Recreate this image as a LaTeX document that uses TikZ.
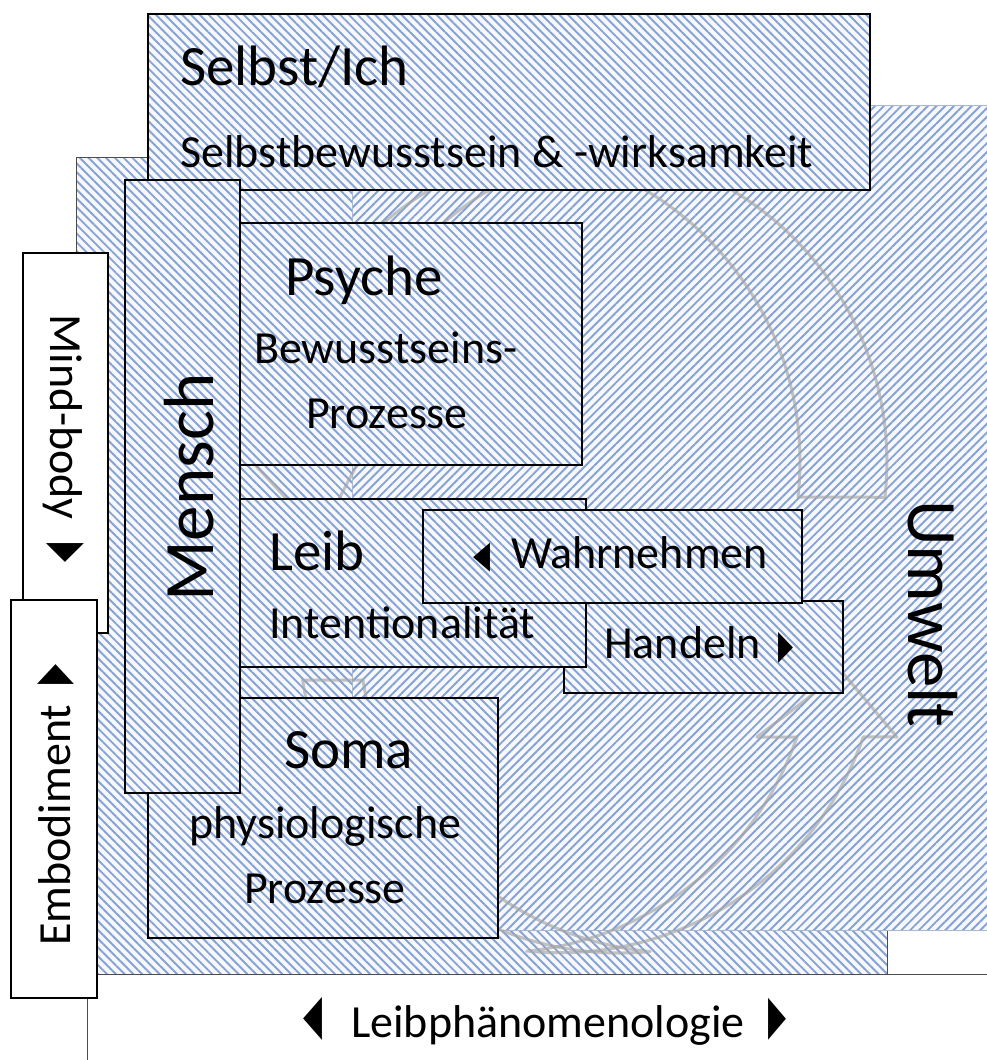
\documentclass[tikz,border=0pt]{standalone}
\usepackage{fontspec}
\usepackage{graphicx}
\setmainfont{Carlito}
\newfontfamily\trifont{DejaVu Sans}
\usetikzlibrary{patterns.meta}
\definecolor{hatch}{HTML}{86A2D4}
\definecolor{tint}{HTML}{F6F8FC}
\definecolor{arcgray}{HTML}{A4A4A4}
\definecolor{bgline}{HTML}{A8B8D0}
\newcommand{\arrowglyph}[4]{\raisebox{#4}{\resizebox*{#2}{#3}{\trifont #1}}}

\begin{document}
\begin{tikzpicture}[x=1pt,y=-1pt,
  hatch nw/.style={preaction={fill=tint},pattern={Lines[angle=-45,distance=6.2pt,line width=1.9pt]},pattern color=hatch},
  hatch ne/.style={preaction={fill=tint},pattern={Lines[angle=45,distance=6.2pt,line width=1.9pt]},pattern color=hatch},
  hbox/.style={hatch nw,draw=black,line width=1.2pt,inner sep=0pt,outer sep=0pt,anchor=north west},
  wbox/.style={fill=white,draw=black,line width=1.2pt,inner sep=0pt,outer sep=0pt,anchor=north west},
  txt/.style={inner sep=0pt,anchor=base west,font=\fontsize{46}{50}\selectfont},
  title/.style={txt,font=\fontsize{57}{60}\selectfont},
  giant/.style={txt,font=\fontsize{71}{75}\selectfont},
  cycle arc/.style={draw=arcgray,line width=3pt,draw opacity=0.65,line join=round}]
  \useasboundingbox (0,0) rectangle (987,1060);

  % backdrops
  \node[wbox,draw=black!70,line width=0.8pt,minimum width=913pt,minimum height=100pt] (phaen) at (87,974) {};
  \node[hbox,draw=black!70,line width=0.8pt,minimum width=811pt,minimum height=817pt] (menschbg) at (76,157) {};
  \node[hbox,hatch ne,draw=bgline,line width=0.8pt,minimum width=650pt,minimum height=825pt] (umweltbg) at (352,105) {};

  % circular arrows behind the boxes
  \draw[cycle arc] (528,149) arc[start angle=-97.8,end angle=6.4,radius=316] -- (798,497)
    arc[start angle=6.4,end angle=-82.2,radius=316] -- cycle;
  \draw[cycle arc] (620,147.4) arc[start angle=275.4,end angle=181.3,radius=316] -- (246,455) -- (320,535)
    -- (362,455) -- (334.1,455) arc[start angle=181.3,end angle=264.6,radius=316] -- cycle;
  \draw[cycle arc] (527,951) arc[start angle=95.9,end angle=19.1,radius=321] -- (897,737) -- (842,672)
    -- (757,737) -- (797,737) arc[start angle=19.1,end angle=84.1,radius=321] -- cycle;
  \draw[cycle arc] (302.6,680) arc[start angle=171.4,end angle=84.6,radius=321]
    arc[start angle=95.4,end angle=171.4,radius=321] -- cycle;

  % boxes
  \foreach \n/\xa/\ya/\w/\h in {selbst/148/14/722/176,soma/148/698/350/240,psyche/240/223/342/242,
      mensch/125/180/115/613,handeln/564/601/279/92,leib/240/499/346/168,wahrn/423/510/379/93}
    \node[hbox,minimum width=\w pt,minimum height=\h pt] (\n) at (\xa,\ya) {};
  \node[wbox,minimum width=85pt,minimum height=380pt] (mindbody) at (23,253) {};
  \node[wbox,minimum width=86pt,minimum height=398pt] (embod) at (11,600) {};

  % labels
  \node[title] (tselbst) at (180,85) {Selbst/Ich};
  \node[txt] (tselbst2) at (180,167) {Selbstbewusstsein \& -wirksamkeit};
  \node[title] (tpsyche) at (285,295) {Psyche};
  \node[txt] (tpsyche2) at (254,363) {Bewusstseins-};
  \node[txt] (tpsyche3) at (306,428) {Prozesse};
  \node[title] (tleib) at (269,570) {Leib};
  \node[txt] (tleib2) at (269,638) {Intentionalität};
  \node[txt] (twahrn) at (473,568) {\arrowglyph{◀}{17pt}{29pt}{1pt}\hspace{21pt}Wahrnehmen};
  \node[txt] (thandeln) at (604,658) {Handeln\hspace{18pt}\arrowglyph{▶}{15pt}{31pt}{0pt}};
  \node[title] (tsoma) at (284,768) {Soma};
  \node[txt] (tsoma2) at (189,838) {physiologische};
  \node[txt] (tsoma3) at (244,903) {Prozesse};
  \node[txt] (tphaen) at (303,1037) {\arrowglyph{◀}{19pt}{43pt}{4pt}\hspace{29pt}Leibphänomenologie\hspace{24pt}\arrowglyph{▶}{18pt}{42pt}{4pt}};
  \node[giant,rotate=-90] (tumwelt) at (908,500) {Umwelt};
  \node[giant,rotate=90] (tmensch) at (213,602) {Mensch};
  \node[txt,rotate=-90] (tmindbody) at (50,314) {Mind-body\hspace{24pt}\arrowglyph{▶}{19pt}{38pt}{2pt}};
  \node[txt,rotate=90] (tembod) at (70,946) {Embodiment\hspace{20pt}\arrowglyph{▶}{20pt}{37pt}{2pt}};
\end{tikzpicture}
\end{document}
